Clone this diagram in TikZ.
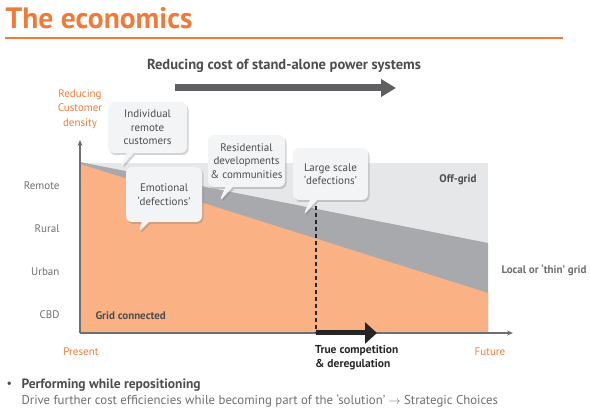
\documentclass[tikz,border=0pt]{standalone}
\usepackage{fontspec}
\setmainfont{PT Sans}
\usetikzlibrary{arrows.meta,positioning,shapes.callouts,shadows}

\definecolor{ecoOrange}{RGB}{240,122,58}
\definecolor{gridOrange}{RGB}{250,178,132}
\definecolor{offGray}{RGB}{230,231,232}
\definecolor{thinGray}{RGB}{167,169,172}
\definecolor{bubbleFill}{RGB}{243,244,245}
\definecolor{darkText}{RGB}{77,77,79}
\definecolor{axisGray}{RGB}{109,110,113}

\begin{document}
\begin{tikzpicture}[x=1pt,y=-1pt]
\tikzset{
  bubble/.style={rectangle callout,rounded corners=6pt,fill=bubbleFill,
    drop shadow={opacity=0.35,shadow xshift=1.5pt,shadow yshift=-2pt},
    align=center,inner sep=2pt,text=darkText,font=\fontsize{11}{13.5}\selectfont},
  ylabel/.style={anchor=east,text=axisGray,font=\fontsize{11}{13}\selectfont},
  xlabel/.style={text=ecoOrange,font=\fontsize{11}{13}\selectfont},
  zonelabel/.style={text=darkText,font=\fontsize{11}{13}\selectfont\bfseries},
  axis/.style={draw=axisGray,line width=1.2pt,-{Stealth[length=6pt,width=5pt]}},
  bigarrow/.style={line width=7pt,-{Triangle[length=15pt,width=17pt]}}
}
\useasboundingbox (0,0) rectangle (590,417);

% title
\node[anchor=west,text=ecoOrange,font=\fontsize{29.5}{32}\selectfont\bfseries] (n_title) at (2,18) {The economics};
\draw[ecoOrange,line width=2.5pt] (5,38) -- (563,38);

% zones
\fill[offGray] (80,163) rectangle (488,333);
\fill[thinGray] (80,162) -- (488,243) -- (488,333) -- (80,333) -- cycle;
\fill[gridOrange] (80,164) -- (488,293) -- (488,333) -- (80,333) -- cycle;

% axes
\coordinate (n_origin) at (80,333);
\coordinate (n_ytop) at (80,140);
\coordinate (n_xend) at (513,333);
\draw[axis] (n_origin) -- (n_ytop);
\draw[axis] (n_origin) -- (n_xend);

\node[xlabel,align=center,font=\fontsize{11}{14.5}\selectfont,anchor=south] (n_density) at (80,132) {Reducing\\Customer\\density};
\node[ylabel] (n_remote) at (63,186) {Remote};
\node[ylabel] (n_rural) at (63,229) {Rural};
\node[ylabel] (n_urban) at (63,272) {Urban};
\node[ylabel] (n_cbd) at (63,315) {CBD};
\node[xlabel] (n_present) at (81,352) {Present};
\node[xlabel] (n_future) at (490,352) {Future};

\node[zonelabel,anchor=west] (n_grid) at (92,316) {Grid connected};
\node[zonelabel,anchor=east] (n_offgrid) at (480,180) {Off-grid};
\node[zonelabel,anchor=west,text=axisGray] (n_thin) at (498,270) {Local or ‘thin’ grid};

% cost arrow
\node[text=darkText,font=\fontsize{14.5}{16}\selectfont\bfseries] (n_cost) at (284,66) {Reducing cost of stand-alone power systems};
\coordinate (n_costL) at (175,88);
\coordinate (n_costR) at (396,88);
\draw[bigarrow,draw=darkText!90!white,fill=darkText!90!white] (n_costL) -- (n_costR);

% competition
\coordinate (n_dashtop) at (316,206);
\coordinate (n_dashbot) at (316,333);
\coordinate (n_compR) at (377,333);
\draw[black!85,line width=1.3pt,dash pattern=on 4pt off 3pt] (n_dashtop) -- (n_dashbot);
\draw[black!85,line width=5pt,-{Triangle[length=12pt,width=21pt]}] (n_dashbot) -- (n_compR);
\node[anchor=north west,align=left,inner sep=0pt,text=black!85,font=\fontsize{11.5}{14}\selectfont\bfseries] (n_comp) at (315,345) {True competition\\\& deregulation};

% bubbles
\node[bubble,minimum width=79pt,minimum height=51pt,callout absolute pointer={(120,168)}] (n_remoteb) at (147.5,127.5) {Individual\\remote\\customers};
\node[bubble,minimum width=76pt,minimum height=55pt,callout absolute pointer={(138,233)}] (n_emotion) at (164,194.5) {Emotional\\‘defections’};
\node[bubble,minimum width=77pt,minimum height=52pt,callout absolute pointer={(219,202)}] (n_resid) at (246.5,161) {Residential\\developments\\\& communities};
\node[bubble,minimum width=75pt,minimum height=52pt,callout absolute pointer={(303,216)}] (n_large) at (330.5,174) {Large scale\\‘defections’};

% bullet
\node[anchor=west,text=darkText,font=\fontsize{12}{14}\selectfont] (n_dot) at (3,385) {•};
\node[anchor=west,text=darkText,font=\fontsize{13.5}{15}\selectfont\bfseries] (n_perform) at (18,385) {Performing while repositioning};
\node[anchor=west,text=axisGray,font=\fontsize{12.8}{14}\selectfont] (n_drive) at (18,401) {Drive further cost efficiencies while becoming part of the ‘solution’ $\rightarrow$ Strategic Choices};
\end{tikzpicture}
\end{document}
